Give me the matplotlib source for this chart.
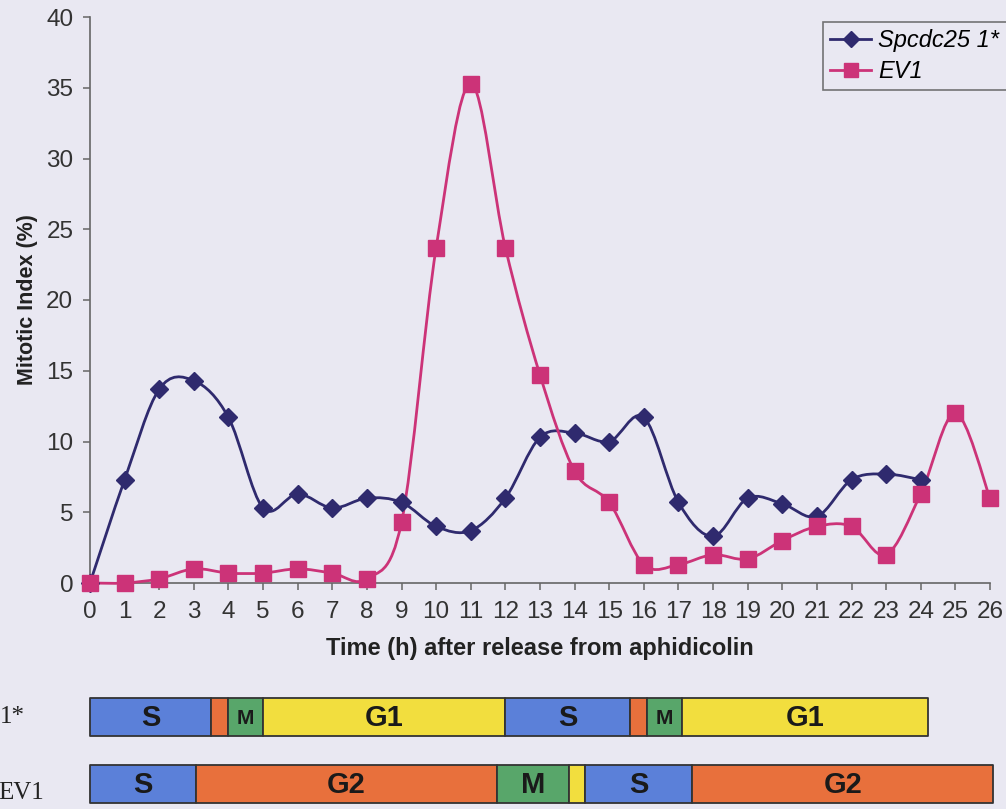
import numpy as np
import matplotlib
matplotlib.use("Agg")
import matplotlib.pyplot as plt
from matplotlib.path import Path
from matplotlib.patches import PathPatch
from matplotlib.lines import Line2D

plt.rcParams["font.family"] = ["Liberation Sans", "DejaVu Sans"]

# ---------------- data ----------------
hours = list(range(0, 27))
spcdc25_x = list(range(0, 25))
spcdc25 = [0, 7.3, 13.7, 14.3, 11.7, 5.3, 6.3, 5.3, 6.0, 5.7, 4.0, 3.7, 6.0,
           10.3, 10.6, 10.0, 11.7, 5.7, 3.3, 6.0, 5.6, 4.7, 7.3, 7.7, 7.3]
ev1_x = list(range(0, 27))
ev1 = [0, 0, 0.3, 1.0, 0.7, 0.7, 1.0, 0.7, 0.3, 4.3, 23.7, 35.3, 23.7,
       14.7, 7.9, 5.7, 1.3, 1.3, 2.0, 1.7, 3.0, 4.0, 4.0, 2.0, 6.3, 12.0, 6.0]
yticks = [0, 5, 10, 15, 20, 25, 30, 35, 40]

# cell-cycle phase bars (boundaries in hours)
row1_phases = ["S", "G2", "M", "G1", "S", "G2", "M", "G1"]
row1_bounds = [0, 3.5, 4.0, 5.0, 12.0, 15.6, 16.1, 17.1, 24.2]
row1_labels = ["S", "", "M", "G1", "S", "", "M", "G1"]
row2_phases = ["S", "G2", "M", "G1", "S", "G2"]
row2_bounds = [0, 3.05, 11.75, 13.85, 14.3, 17.4, 26.1]
row2_labels = ["S", "G2", "M", "", "S", "G2"]

phase_colors = {"S": "#5b80d9", "G2": "#e8703c", "M": "#58a66a", "G1": "#f2de3e"}

BG = "#e9e8f2"
NAVY = "#2f2a6e"
MAGENTA = "#cc3378"

W, H = 1006, 809
fig = plt.figure(figsize=(W / 100, H / 100), dpi=100, facecolor=BG)

L, R, T, B = 90, 990, 17, 583
ax = fig.add_axes([L / W, 1 - B / H, (R - L) / W, (B - T) / H])
ax.set_facecolor(BG)
ax.set_xlim(0, 26)
ax.set_ylim(0, 40)


def smooth(xs, ys):
    xs = np.asarray(xs, float)
    ys = np.asarray(ys, float)
    pts = np.column_stack([xs, ys])
    verts = [pts[0]]
    codes = [Path.MOVETO]
    n = len(pts)
    for i in range(n - 1):
        p0 = pts[i - 1] if i > 0 else pts[i]
        p1 = pts[i]
        p2 = pts[i + 1]
        p3 = pts[i + 2] if i + 2 < n else pts[i + 1]
        c1 = p1 + (p2 - p0) / 6.0
        c2 = p2 - (p3 - p1) / 6.0
        verts += [c1, c2, p2]
        codes += [Path.CURVE4] * 3
    return Path(verts, codes)


ax.add_patch(PathPatch(smooth(spcdc25_x, spcdc25), fill=False, edgecolor=NAVY,
                       lw=2.0, zorder=3, clip_on=False))
ax.add_patch(PathPatch(smooth(ev1_x, ev1), fill=False, edgecolor=MAGENTA,
                       lw=2.0, zorder=3, clip_on=False))
ax.plot(spcdc25_x, spcdc25, linestyle="none", marker="D", ms=9.5, color=NAVY,
        zorder=4, clip_on=False)
ax.plot(ev1_x, ev1, linestyle="none", marker="s", ms=11, color=MAGENTA,
        zorder=5, clip_on=False)

for s in ["top", "right"]:
    ax.spines[s].set_visible(False)
for s in ["left", "bottom"]:
    ax.spines[s].set_color("#666666")
    ax.spines[s].set_linewidth(1.2)

ax.set_xticks(hours)
ax.set_yticks(yticks)
ax.tick_params(axis="both", direction="out", length=5, width=1.1,
               color="#666666", labelsize=17.5, labelcolor="#333333")
ax.tick_params(axis="x", pad=8)
ax.tick_params(axis="y", pad=7)
ax.set_xlabel("Time (h) after release from aphidicolin", fontsize=17,
              fontweight="bold", color="#222222", labelpad=10)
ax.set_ylabel("Mitotic Index (%)", fontsize=15.5, fontweight="bold",
              color="#222222")
ax.yaxis.set_label_coords(-0.058, 0.50)

handles = [
    Line2D([], [], color=NAVY, marker="D", ms=8.5, lw=2.0),
    Line2D([], [], color=MAGENTA, marker="s", ms=10, lw=2.0),
]
leg = fig.legend(handles, ["Spcdc25 1*", "EV1"], loc="upper left",
                 bbox_to_anchor=(823 / W, 1 - 22 / H),
                 prop={"style": "italic", "size": 17},
                 frameon=True, fancybox=False, borderpad=0.3,
                 handlelength=1.75, handletextpad=0.3, labelspacing=0.33,
                 borderaxespad=0)
leg.get_frame().set_edgecolor("#555555")
leg.get_frame().set_facecolor(BG)
leg.get_frame().set_linewidth(1.2)

# phase bar axes: x in hours (same scale as main axes), y in pixel rows
axb = fig.add_axes([L / W, 0, (R - L) / W, 1], zorder=-1)
axb.set_xlim(0, 26)
axb.set_ylim(H, 0)
axb.axis("off")


def draw_row(bounds, phases, labels, y0, h):
    for i, ph in enumerate(phases):
        x0, x1 = bounds[i], bounds[i + 1]
        axb.broken_barh([(x0, x1 - x0)], (y0, h), facecolors=phase_colors[ph],
                        edgecolor="#333333", linewidth=1.3, clip_on=False)
        if labels[i]:
            fs = 21 if (x1 - x0) > 1.5 else 15
            axb.text((x0 + x1) / 2, y0 + h / 2 + 1, labels[i], ha="center",
                     va="center", fontsize=fs, fontweight="bold",
                     color="#1a1a1a", clip_on=False)


draw_row(row1_bounds, row1_phases, row1_labels, 698, 38)
draw_row(row2_bounds, row2_phases, row2_labels, 765, 38)

fig.text(0 / W, 1 - 717 / H, "1*", fontsize=18, family="Liberation Serif",
         ha="left", va="center", color="#222222")
fig.text(-2 / W, 1 - 793 / H, "EV1", fontsize=18, family="Liberation Serif",
         ha="left", va="center", color="#222222")

fig.savefig("out.png", dpi=100, facecolor=BG)
